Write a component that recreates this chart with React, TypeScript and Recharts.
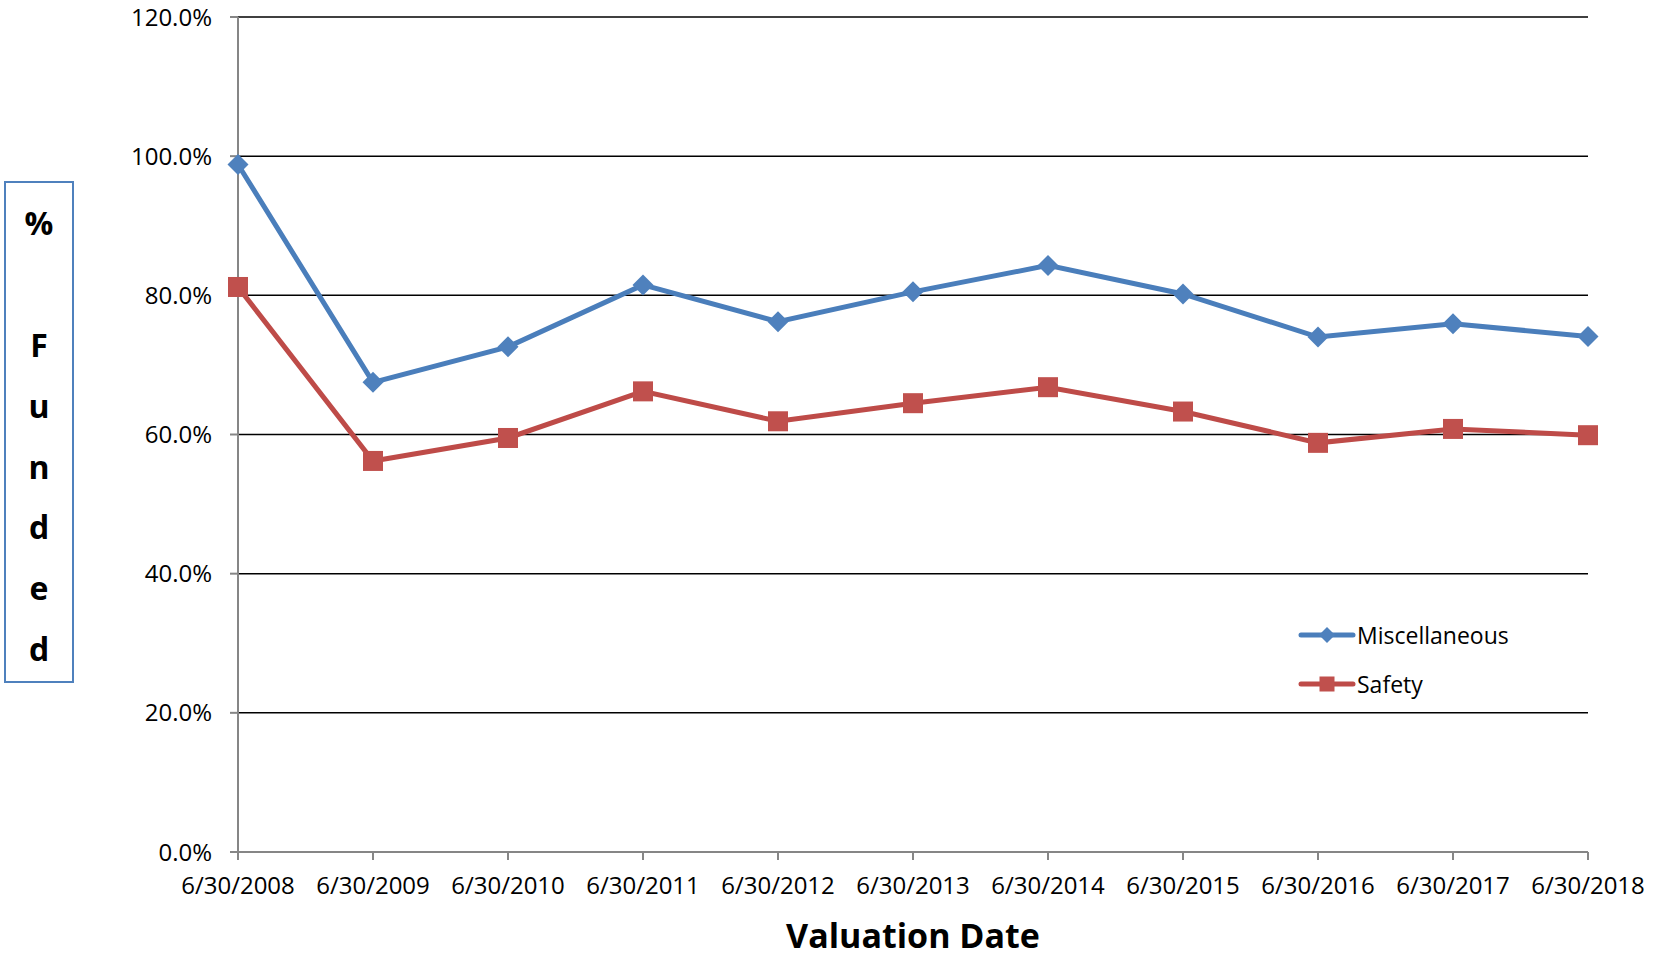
import React from "react";
import { LineChart, Line, XAxis, YAxis, CartesianGrid } from "recharts";

const DATES = [
  "6/30/2008",
  "6/30/2009",
  "6/30/2010",
  "6/30/2011",
  "6/30/2012",
  "6/30/2013",
  "6/30/2014",
  "6/30/2015",
  "6/30/2016",
  "6/30/2017",
  "6/30/2018",
];
const MISCELLANEOUS = [98.8, 67.5, 72.6, 81.5, 76.2, 80.5, 84.3, 80.2, 74.0, 75.9, 74.1];
const SAFETY = [81.2, 56.2, 59.5, 66.2, 61.9, 64.5, 66.8, 63.3, 58.8, 60.8, 59.9];
const Y_TICKS = [0, 20, 40, 60, 80, 100, 120];
const Y_LABEL = ["%", "", "F", "u", "n", "d", "e", "d"];
const SERIES_NAMES = ["Miscellaneous", "Safety"];

const FONT = "'Open Sans', 'Noto Sans', sans-serif";
const BLUE_LINE = "#4A7EBB";
const BLUE_FILL = "#4F81BD";
const RED_LINE = "#BE4B48";
const RED_FILL = "#C0504D";
const AXIS_GRAY = "#868686";

const chartData = DATES.map((date, i) => ({
  date,
  misc: MISCELLANEOUS[i],
  safety: SAFETY[i],
}));

function diamondPath(cx: number, cy: number, r: number) {
  return `M${cx},${cy - r}L${cx + r},${cy}L${cx},${cy + r}L${cx - r},${cy}Z`;
}

const renderDiamond = (props: any) => {
  const { cx, cy, index } = props;
  if (cx == null || cy == null) return <g key={`d-${index}`} />;
  return <path key={`d-${index}`} d={diamondPath(cx, cy, 10.5)} fill={BLUE_FILL} />;
};

const renderSquare = (props: any) => {
  const { cx, cy, index } = props;
  if (cx == null || cy == null) return <g key={`s-${index}`} />;
  return <rect key={`s-${index}`} x={cx - 10} y={cy - 10} width={20} height={20} fill={RED_FILL} />;
};

function LegendBox() {
  return (
    <div
      style={{
        position: "absolute",
        left: 1298,
        top: 610,
        fontFamily: FONT,
        fontSize: 23,
        color: "#000",
      }}
    >
      {SERIES_NAMES.map((name, i) => {
        const color = i === 0 ? BLUE_LINE : RED_LINE;
        return (
          <div key={name} style={{ display: "flex", alignItems: "center", height: 49 }}>
            <svg width={58} height={24} style={{ marginRight: 1 }}>
              <line x1={3} y1={12} x2={55} y2={12} stroke={color} strokeWidth={5} strokeLinecap="round" />
              {i === 0 ? (
                <path d={diamondPath(29, 12, 8)} fill={BLUE_FILL} />
              ) : (
                <rect x={21.5} y={4.5} width={15} height={15} fill={RED_FILL} />
              )}
            </svg>
            <span>{name}</span>
          </div>
        );
      })}
    </div>
  );
}

export default function App() {
  return (
    <div
      style={{
        position: "absolute",
        left: 0,
        top: 0,
        width: 1660,
        height: 956,
        background: "#fff",
      }}
    >
      <LineChart
        width={1660}
        height={956}
        data={chartData}
        margin={{ top: 17, right: 72, bottom: 0, left: 0 }}
      >
        <CartesianGrid horizontal vertical={false} stroke="#000" strokeWidth={1.5} />
        <XAxis
          dataKey="date"
          height={104}
          interval={0}
          stroke={AXIS_GRAY}
          strokeWidth={2}
          tickSize={8}
          tickMargin={17}
          tick={{ fill: "#000", fontSize: 24, fontFamily: FONT }}
        />
        <YAxis
          width={238}
          domain={[0, 120]}
          ticks={Y_TICKS}
          interval={0}
          stroke={AXIS_GRAY}
          strokeWidth={2}
          tickSize={8}
          tickMargin={18}
          tickFormatter={(v: number) => `${v.toFixed(1)}%`}
          tick={{ fill: "#000", fontSize: 24, fontFamily: FONT }}
        />
        <Line
          dataKey="misc"
          name={SERIES_NAMES[0]}
          stroke={BLUE_LINE}
          strokeWidth={5}
          dot={renderDiamond}
          activeDot={false}
          isAnimationActive={false}
        />
        <Line
          dataKey="safety"
          name={SERIES_NAMES[1]}
          stroke={RED_LINE}
          strokeWidth={5}
          dot={renderSquare}
          activeDot={false}
          isAnimationActive={false}
        />
      </LineChart>

      <LegendBox />

      <div
        style={{
          position: "absolute",
          left: 4,
          top: 181,
          width: 70,
          height: 502,
          border: `2px solid ${BLUE_FILL}`,
          boxSizing: "border-box",
          paddingTop: 10,
          fontFamily: FONT,
          fontWeight: 700,
          fontSize: 32,
          textAlign: "center",
          color: "#000",
        }}
      >
        {Y_LABEL.map((c, i) => (
          <div key={i} style={{ height: 60.9, lineHeight: "60.9px" }}>
            {c || "\u00a0"}
          </div>
        ))}
      </div>

      <div
        style={{
          position: "absolute",
          left: 238,
          width: 1350,
          top: 912,
          textAlign: "center",
          fontFamily: FONT,
          fontWeight: 700,
          fontSize: 34,
          lineHeight: "46px",
          color: "#000",
        }}
      >
        Valuation Date
      </div>
    </div>
  );
}
